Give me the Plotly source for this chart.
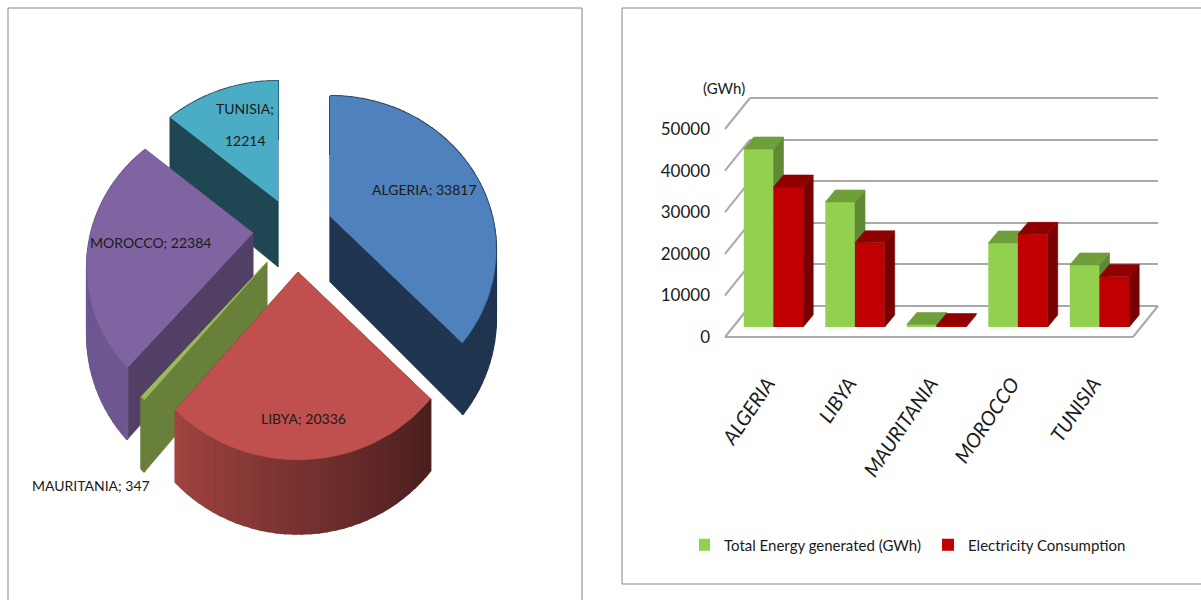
import math
import plotly.graph_objects as go

W, H = 1201, 600

# --- data ---
pie_names = ['ALGERIA', 'LIBYA', 'MAURITANIA', 'MOROCCO', 'TUNISIA']
pie_values = [33817, 20336, 347, 22384, 12214]

categories = ['ALGERIA', 'LIBYA', 'MAURITANIA', 'MOROCCO', 'TUNISIA']
energy_generated = [43000, 30200, 600, 20300, 15000]
electricity_consumption = [33817, 20336, 347, 22384, 12214]
y_ticks = [0, 10000, 20000, 30000, 40000, 50000]

# --- pie styling: pulled-out centre of each slice, in pixels ---
pie_centres = [(330, 216), (298, 272), (267, 262), (253, 233), (278, 201)]
top_colors = ['#4f81bd', '#c0504d', '#9bbb59', '#8064a2', '#4bacc6']
wall_colors = ['#1f3550', '#6b2a28', '#68803a', '#523f66', '#1e4753']
rim_from = [(31, 53, 80), (74, 31, 30), (104, 128, 58), (112, 88, 146), (30, 71, 83)]
rim_to = [(31, 53, 80), (160, 68, 64), (104, 128, 58), (106, 84, 144), (30, 71, 83)]
draw_order = [4, 0, 3, 2, 1]
label_pos = [(424, 189), (303, 418), (91, 485), (150, 242), (245, 108)]

R, RV, K = 162, 146.5, 0.22
FONT = 'Lato'

# --- bar styling ---
BAR_X0, BAR_STEP = 773.5, 81.5
BAR_Y0, BAR_SCALE = 327, 41.4 / 10000
DEPTH_X, DEPTH_Y = 10 / BAR_STEP, 12 / BAR_SCALE
BAR_W = 29.7 / BAR_STEP
LABEL_SHIFT = 6 / BAR_STEP


def project(cx, cy, theta):
    # perspective view of a point on the pie rim, angle clockwise from 12 o'clock
    px, py = math.sin(theta), math.cos(theta)
    s = 1 / (1 + K * py)
    return cx + R * px * s, cy - RV * py * s, 66 - 8 * py


fig = go.Figure()


def poly(xs, ys, color, xa='x', ya='y', lw=0.6):
    fig.add_trace(go.Scatter(
        x=list(xs) + [xs[0]], y=list(ys) + [ys[0]],
        xaxis=xa, yaxis=ya, mode='lines', fill='toself',
        fillcolor=color, line=dict(color=color, width=lw),
        hoverinfo='skip', showlegend=False,
    ))


# --- 3D pie ---
total = sum(pie_values)
starts = [sum(pie_values[:i]) / total * 2 * math.pi for i in range(len(pie_values))]
for i in draw_order:
    cx, cy = pie_centres[i]
    a0 = starts[i]
    a1 = a0 + pie_values[i] / total * 2 * math.pi
    n = max(2, int((a1 - a0) / 0.04))
    angles = [a0 + (a1 - a0) * j / n for j in range(n + 1)]
    rim = [project(cx, cy, a) for a in angles]
    # cut faces
    for rx, ry, d in (rim[0], rim[-1]):
        poly([cx, rx, rx, cx], [cy, ry, ry + d, cy + 66], wall_colors[i])
    # outer wall, shaded along the arc
    for j in range(n):
        f = j / max(1, n - 1)
        c = [int(rim_from[i][q] + (rim_to[i][q] - rim_from[i][q]) * f) for q in range(3)]
        p, q = rim[j], rim[j + 1]
        poly([p[0], q[0], q[0], p[0]], [p[1], q[1], q[1] + q[2], p[1] + p[2]],
             'rgb(%d,%d,%d)' % tuple(c), lw=2)
    poly([cx] + [p[0] for p in rim], [cy] + [p[1] for p in rim], top_colors[i])

# empty traces so the wall and value-label axes are drawn under the bars
fig.add_trace(go.Scatter(x=[], y=[], xaxis='x2', yaxis='y2', showlegend=False))
fig.add_trace(go.Scatter(x=[], y=[], xaxis='x3', yaxis='y3', showlegend=False))


# --- 3D bars: front faces are real bars, tops and sides follow the values ---
def add_bars(values, name, front, top, side, xa, ya, offset):
    fig.add_trace(go.Bar(
        x=list(range(len(values))), y=values, name=name, xaxis=xa, yaxis=ya,
        width=BAR_W, offset=offset, marker=dict(color=front, line=dict(width=0)),
        hoverinfo='skip',
    ))
    for i, v in enumerate(values):
        l = i + offset
        r = l + BAR_W
        poly([r, r + DEPTH_X, r + DEPTH_X, r], [0, DEPTH_Y, v + DEPTH_Y, v], side, xa, ya)
        poly([l, r, r + DEPTH_X, l + DEPTH_X], [v, v, v + DEPTH_Y, v + DEPTH_Y], top, xa, ya)


add_bars(energy_generated, 'Total Energy generated (GWh)', '#92d050', '#6f9f3b', '#5f8a33', 'x4', 'y4', -BAR_W)
add_bars(electricity_consumption, 'Electricity Consumption', '#c00000', '#900000', '#780000', 'x5', 'y5', 0)


def xdom(a, b):
    return [a / W, b / W]


def ydom(top, bottom):
    return [1 - bottom / H, 1 - top / H]


bar_left, bar_right = 692, 1158
bar_range = [(bar_left - BAR_X0) / BAR_STEP, (bar_right - BAR_X0) / BAR_STEP]
bar_dom_y = ydom(BAR_Y0 - 50000 * BAR_SCALE, BAR_Y0)
hidden = dict(visible=False, fixedrange=True)

# floor edges and the slanted wall lines
GRID = '#a9a9a9'
shapes = [
    dict(type='rect', xref='paper', yref='paper', x0=8 / W, x1=582 / W, y0=-0.02, y1=1 - 8 / H,
         line=dict(color='#868686', width=1), layer='below'),
    dict(type='rect', xref='paper', yref='paper', x0=622 / W, x1=1.01, y0=1 - 584 / H, y1=1 - 8 / H,
         line=dict(color='#868686', width=1), layer='below'),
    dict(type='line', xref='paper', yref='paper', x0=725 / W, x1=1133 / W, y0=1 - 337 / H, y1=1 - 337 / H,
         line=dict(color=GRID, width=2), layer='below'),
    dict(type='line', xref='paper', yref='paper', x0=1133 / W, x1=1158 / W, y0=1 - 337 / H, y1=1 - 306 / H,
         line=dict(color=GRID, width=2), layer='below'),
]
for t in y_ticks:
    front_y = 337 - t * 0.00416
    back_y = 306 - t * 0.00416
    shapes.append(dict(type='line', xref='paper', yref='paper', x0=725 / W, x1=750 / W,
                       y0=1 - front_y / H, y1=1 - back_y / H,
                       line=dict(color=GRID, width=2), layer='below'))

annotations = []
for i, n in enumerate(pie_names):
    if n == 'TUNISIA':
        # two lines, set wide apart in the source
        lines = [(f'{n};', label_pos[i][1]), (str(pie_values[i]), label_pos[i][1] + 32)]
    else:
        lines = [(f'{n}; {pie_values[i]}', label_pos[i][1])]
    for text, y in lines:
        annotations.append(dict(x=label_pos[i][0], y=y, xref='x', yref='y', text=text, showarrow=False,
                                font=dict(family=FONT, size=14, color='#1a1a1a')))
annotations.append(dict(x=724 / W, y=1 - 77 / H, xref='paper', yref='paper', text='(GWh)',
                        showarrow=False, font=dict(family=FONT, size=15, color='#1a1a1a')))

fig.update_layout(
    width=W, height=H,
    margin=dict(l=0, r=0, t=0, b=0, autoexpand=False),
    paper_bgcolor='white', plot_bgcolor='rgba(0,0,0,0)',
    barmode='overlay',
    shapes=shapes, annotations=annotations,
    xaxis=dict(domain=[0, 1], range=[0, W], **hidden),
    yaxis=dict(domain=[0, 1], range=[H, 0], **hidden),
    # back wall gridlines; range runs past 0 and 50000 so the end lines are kept
    xaxis2=dict(domain=xdom(750, 1158), range=[0, 1], anchor='y2', **hidden),
    yaxis2=dict(domain=ydom(98 - 4.16, 306 + 4.16), range=[-1000, 51000], anchor='x2', tickmode='array',
                tickvals=y_ticks, showticklabels=False, showgrid=True, gridcolor=GRID, gridwidth=2,
                zeroline=False, fixedrange=True),
    # value labels sit on the front edge of the floor
    xaxis3=dict(domain=xdom(711, 725), range=[0, 1], anchor='y3', **hidden),
    yaxis3=dict(domain=ydom(129, 337), range=[0, 50000], anchor='x3', tickmode='array', tickvals=y_ticks,
                ticktext=[str(t) for t in y_ticks], showgrid=False, zeroline=False, ticks='',
                tickfont=dict(family=FONT, size=17, color='#1a1a1a'), fixedrange=True),
    xaxis4=dict(domain=xdom(bar_left, bar_right), range=bar_range, anchor='y4', tickmode='array',
                tickvals=[i - LABEL_SHIFT for i in range(len(categories))], ticktext=categories, tickangle=-56,
                ticks='outside', ticklen=36, tickcolor='rgba(0,0,0,0)', showgrid=False, zeroline=False,
                showline=False, tickfont=dict(family=FONT, size=20, color='#1a1a1a', style='italic'),
                fixedrange=True),
    yaxis4=dict(domain=bar_dom_y, range=[0, 50000], anchor='x4', **hidden),
    xaxis5=dict(overlaying='x4', range=bar_range, anchor='y5', **hidden),
    yaxis5=dict(overlaying='y4', range=[0, 50000], anchor='x5', **hidden),
    showlegend=True,
    legend=dict(orientation='h', x=699 / W, xanchor='left', y=1 - 545 / H, yanchor='middle',
                indentation=-15, entrywidth=214, bgcolor='rgba(0,0,0,0)',
                font=dict(family=FONT, size=15, color='#1a1a1a')),
)

fig.write_html('out.html', config=dict(displayModeBar=False),
               post_script="document.body.style.margin='0';")
